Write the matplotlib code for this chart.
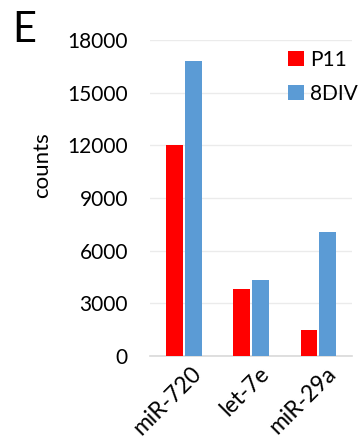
import numpy as np
import matplotlib.pyplot as plt
from matplotlib.transforms import ScaledTranslation

plt.rcParams['font.family'] = ['Lato', 'DejaVu Sans']

mirnas = ['miR-720', 'let-7e', 'miR-29a']
p11 = [12000, 3820, 1480]
div8 = [16800, 4330, 7080]
yticks = [0, 3000, 6000, 9000, 12000, 15000, 18000]

fig = plt.figure(figsize=(3.6, 4.4), dpi=100)
ax = fig.add_axes([0.417, 0.191, 0.561, 0.718])

x = np.arange(len(mirnas))
w = 0.25
ax.bar(x - w/2 - 0.015, p11, w, color='#ff0000', label='P11', zorder=3)
ax.bar(x + w/2 + 0.015, div8, w, color='#5b9bd5', label='8DIV', zorder=3)

ax.set_xlim(-0.5, 2.5)
ax.set_ylim(0, 18000)
ax.set_yticks(yticks)
ax.set_yticklabels([str(v) for v in yticks], fontsize=15)
ax.set_xticks(x)
ax.set_xticklabels(mirnas, rotation=45, ha='right', rotation_mode='anchor', fontsize=16.5)
ax.tick_params(axis='y', length=0, pad=16)
ax.tick_params(axis='x', length=0, pad=5)
# nudge the rotated names a bit to the right
shift = ScaledTranslation(7/100, 0, fig.dpi_scale_trans)
for lab in ax.get_xticklabels():
    lab.set_transform(lab.get_transform() + shift)

ax.grid(axis='y', color='#ebebeb', lw=1, zorder=0)
for s in ['top', 'right', 'left']:
    ax.spines[s].set_visible(False)
ax.spines['bottom'].set_color('#d9d9d9')
ax.spines['bottom'].set_linewidth(1.2)
ax.set_ylabel('counts', fontsize=16)
ax.yaxis.set_label_coords(-0.485, 0.604)

ax.legend(loc='upper left', bbox_to_anchor=(288/360, 1 - 50/440), bbox_transform=fig.transFigure,
          frameon=False, fontsize=15, borderpad=0, borderaxespad=0,
          handlelength=0.75, handleheight=0.75, handletextpad=0.3, labelspacing=0.65)

fig.text(0.035, 1 - 42/440, 'E', fontsize=30, va='baseline')

fig.savefig('out.png', dpi=100)
